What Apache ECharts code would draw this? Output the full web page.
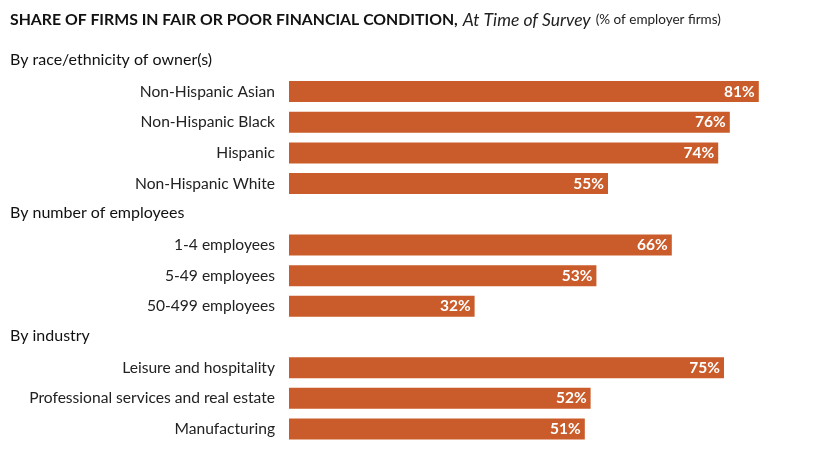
<!DOCTYPE html>
<html><head><meta charset="utf-8">
<script src="https://cdn.jsdelivr.net/npm/echarts@6/dist/echarts.min.js"></script>
<style>html,body{margin:0;padding:0;background:#fff}#c{width:824px;height:454px}</style>
</head><body><div id="c"></div>
<script>
var categories = ["By race/ethnicity of owner(s)", "Non-Hispanic Asian", "Non-Hispanic Black", "Hispanic", "Non-Hispanic White",
  "By number of employees", "1-4 employees", "5-49 employees", "50-499 employees",
  "By industry", "Leisure and hospitality", "Professional services and real estate", "Manufacturing"];
var headers = ["By race/ethnicity of owner(s)", "By number of employees", "By industry"];
var values = [null, 81, 76, 74, 55, null, 66, 53, 32, null, 75, 52, 51];

var FONT = 'Lato';
var chart = echarts.init(document.getElementById('c'), null, {renderer: 'canvas'});
chart.setOption({
  animation: false,
  title: {
    left: 10, top: 11, padding: 0,
    text: '{b|SHARE OF FIRMS IN FAIR OR POOR FINANCIAL CONDITION,} {i|At Time of Survey} {s|(% of employer firms)}',
    textStyle: {
      fontWeight: 'normal',
      rich: {
        b: {fontFamily: FONT, fontWeight: 'bold', fontSize: 15.8, color: '#111'},
        i: {fontFamily: FONT, fontStyle: 'italic', fontWeight: 'normal', fontSize: 17.5, color: '#222'},
        s: {fontFamily: FONT, fontWeight: 'normal', fontSize: 13.5, color: '#222'}
      }
    }
  },
  grid: {left: 289, right: 13, top: 45.5, bottom: 9.6, containLabel: false},
  xAxis: {type: 'value', min: 0, max: 90, show: false},
  yAxis: {
    type: 'category', inverse: true, data: categories,
    axisLine: {show: false}, axisTick: {show: false},
    axisLabel: {
      margin: 14,
      fontFamily: FONT, fontSize: 15.6, color: '#222',
      formatter: function (v) {
        if (headers.indexOf(v) >= 0) return '{h|' + v + '}';
        return v;
      },
      rich: {
        h: {width: 265, align: 'left', fontFamily: FONT, fontSize: 16, color: '#111', padding: [0, 0, 2, 0]}
      }
    }
  },
  series: [{
    type: 'bar', data: values, barWidth: 21,
    itemStyle: {color: '#c95c2a'},
    label: {
      show: true, position: 'insideRight', distance: 4,
      formatter: function (p) { return p.value == null ? '' : p.value + '%'; },
      fontFamily: FONT, fontWeight: 'bold', fontSize: 15.5, color: '#fff'
    }
  }]
});
</script></body></html>
